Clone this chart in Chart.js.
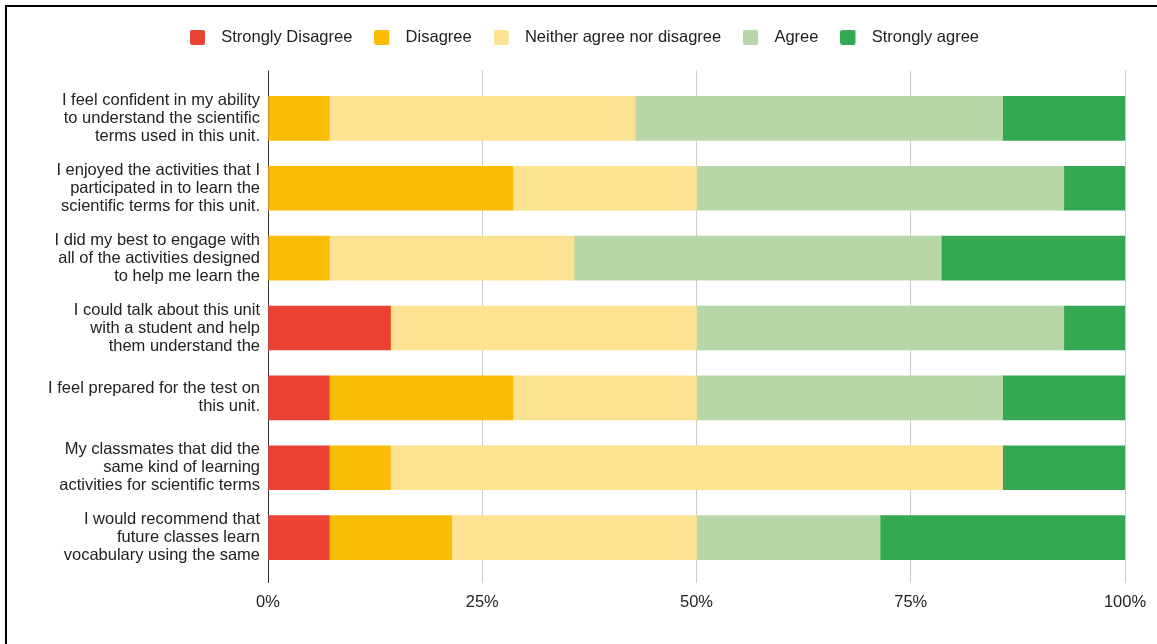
<!DOCTYPE html>
<html>
<head>
<meta charset="utf-8">
<script src="https://cdn.jsdelivr.net/npm/chart.js@4"></script>
<style>
  html, body { margin: 0; padding: 0; background: #fff; }
  #frame { position: absolute; left: 5px; top: 5px; width: 1170px; height: 660px; border: 2px solid #000; box-sizing: border-box; }
  #wrap { position: absolute; left: 0; top: 0; width: 1157px; height: 644px; }
</style>
</head>
<body>
<div id="frame"></div>
<div id="wrap"><canvas id="chart"></canvas></div>
<script>
// Questions (already wrapped like the original)
const questions = [
    ['I feel confident in my ability', 'to understand the scientific', 'terms used in this unit.'],
    ['I enjoyed the activities that I', 'participated in to learn the', 'scientific terms for this unit.'],
    ['I did my best to engage with', 'all of the activities designed', 'to help me learn the'],
    ['I could talk about this unit', 'with a student and help', 'them understand the'],
    ['I feel prepared for the test on', 'this unit.'],
    ['My classmates that did the', 'same kind of learning', 'activities for scientific terms'],
    ['I would recommend that', 'future classes learn', 'vocabulary using the same']
];

// Response counts per question
const stronglyDisagree = [0, 0, 0, 2, 1, 1, 1];
const disagree         = [1, 4, 1, 0, 3, 1, 2];
const neither          = [5, 3, 4, 5, 3, 10, 4];
const agree            = [6, 6, 6, 6, 5, 0, 3];
const stronglyAgree    = [2, 1, 3, 1, 2, 2, 4];

const xTicks = [0, 25, 50, 75, 100];

const series = [
    { label: 'Strongly Disagree', counts: stronglyDisagree, color: '#ea4335' },
    { label: 'Disagree', counts: disagree, color: '#fbbc04' },
    { label: 'Neither agree nor disagree', counts: neither, color: '#fde293' },
    { label: 'Agree', counts: agree, color: '#b7d7a8' },
    { label: 'Strongly agree', counts: stronglyAgree, color: '#34a853' }
];

const totals = questions.map((q, i) => series.reduce((s, d) => s + d.counts[i], 0));

// legend swatch: rounded square with room for the gap to the text
function makeSwatch(color) {
    const c = document.createElement('canvas');
    c.width = 23;
    c.height = 15;
    const g = c.getContext('2d');
    g.fillStyle = color;
    g.beginPath();
    g.roundRect(0, 0, 15, 15, 2);
    g.fill();
    return c;
}

const FONT = { family: '"Liberation Sans", Arial, sans-serif', size: 16.5 };

const legendGap = {
    id: 'legendGap',
    beforeInit(chart) {
        const fit = chart.legend.fit;
        chart.legend.fit = function() {
            fit.call(this);
            this.height += 15;
        };
    }
};

new Chart(document.getElementById('chart'), {
    type: 'bar',
    data: {
        datasets: series.map(s => ({
            label: s.label,
            data: s.counts.map((v, i) => ({ x: v / totals[i] * 100, y: i })),
            backgroundColor: s.color,
            borderWidth: 0,
            barThickness: 44,
            pointStyle: makeSwatch(s.color)
        }))
    },
    options: {
        indexAxis: 'y',
        responsive: true,
        maintainAspectRatio: false,
        animation: false,
        layout: { padding: { left: 44, right: 32, top: 7, bottom: 0 } },
        plugins: {
            legend: {
                position: 'top',
                labels: {
                    usePointStyle: true,
                    pointStyleWidth: 23,
                    boxHeight: 15,
                    padding: 22,
                    color: '#222',
                    font: FONT
                }
            },
            tooltip: { enabled: false }
        },
        scales: {
            x: {
                type: 'linear',
                stacked: true,
                min: 0,
                max: 100,
                afterBuildTicks: scale => { scale.ticks = xTicks.map(v => ({ value: v })); },
                afterFit: scale => { scale.height = 61; },
                ticks: {
                    padding: 10,
                    color: '#222',
                    font: FONT,
                    callback: v => v + '%'
                },
                grid: {
                    drawTicks: false,
                    color: ctx => ctx.tick && ctx.tick.value === 0 ? '#333' : '#ccc'
                },
                border: { display: false }
            },
            y: {
                type: 'linear',
                stacked: true,
                reverse: true,
                offset: false,
                bounds: 'data',
                min: -0.686,
                max: 6.65,
                afterBuildTicks: scale => { scale.ticks = questions.map((q, i) => ({ value: i })); },
                afterFit: scale => { scale.width = 224; },
                ticks: {
                    autoSkip: false,
                    padding: 8,
                    color: '#222',
                    font: { family: FONT.family, size: 16.5, lineHeight: 1.09 },
                    callback: v => questions[v]
                },
                grid: { display: false, drawTicks: false, offset: false },
                border: { display: false }
            }
        }
    },
    plugins: [legendGap]
});
</script>
</body>
</html>
